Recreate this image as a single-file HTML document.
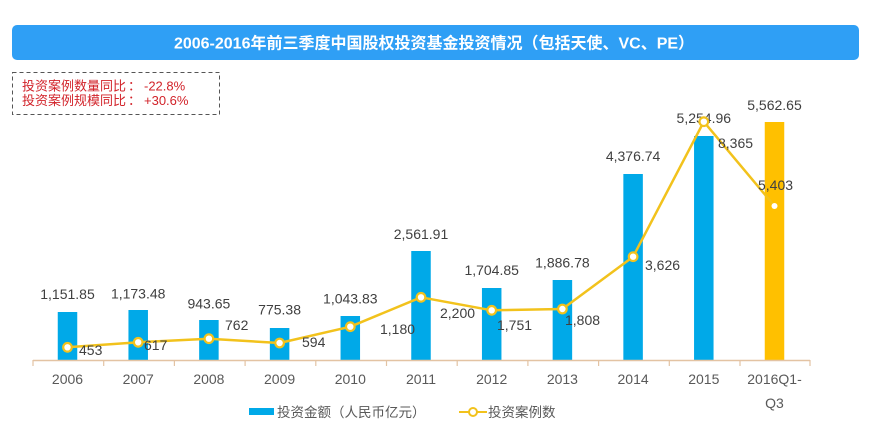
<!DOCTYPE html>
<html>
<head>
<meta charset="utf-8">
<style>
  html,body{margin:0;padding:0;background:#fff;}
  body{width:871px;height:440px;overflow:hidden;position:relative;}
  svg{position:absolute;left:0;top:0;}
  .num{font-family:"Liberation Sans","Noto Sans CJK SC",sans-serif;font-size:14px;fill:#404040;}
  .cat{font-family:"Liberation Sans","Noto Sans CJK SC",sans-serif;font-size:14px;fill:#595959;}
  .leg{font-family:"Liberation Sans","Noto Sans CJK SC",sans-serif;font-size:13.5px;fill:#595959;}
  .title{font-family:"Liberation Sans","Noto Sans CJK SC",sans-serif;font-size:16px;font-weight:bold;fill:#fff;}
  .note{font-family:"Liberation Sans","Noto Sans CJK SC",sans-serif;font-size:13px;fill:#D2232A;}
</style>
</head>
<body>
<svg width="871" height="440" viewBox="0 0 871 440" xmlns="http://www.w3.org/2000/svg">
  <!-- title banner -->
  <rect x="12" y="25" width="847" height="35" rx="5" ry="5" fill="#2F9FF5"/>
  <text class="title" x="434" y="48.5" text-anchor="middle">2006-2016年前三季度中国股权投资基金投资情况（包括天使、VC、PE）</text>

  <!-- annotation box -->
  <rect x="12.5" y="72.5" width="207" height="42" fill="none" stroke="#555" stroke-width="1" stroke-dasharray="4,3"/>
  <text class="note" x="22" y="90.5">投资案例数量同比<tspan x="128">：</tspan><tspan x="144">-22.8%</tspan></text>
  <text class="note" x="22" y="105">投资案例规模同比<tspan x="128">：</tspan><tspan x="144">+30.6%</tspan></text>

  <!-- bars -->
  <g fill="#00A9E8">
    <rect x="57.75" y="312" width="19.5" height="48"/>
    <rect x="128.45" y="310" width="19.5" height="50"/>
    <rect x="199.15" y="320" width="19.5" height="40"/>
    <rect x="269.85" y="328" width="19.5" height="32"/>
    <rect x="340.55" y="316" width="19.5" height="44"/>
    <rect x="411.25" y="251" width="19.5" height="109"/>
    <rect x="481.95" y="288" width="19.5" height="72"/>
    <rect x="552.65" y="280" width="19.5" height="80"/>
    <rect x="623.35" y="174" width="19.5" height="186"/>
    <rect x="694.05" y="136" width="19.5" height="224"/>
  </g>
  <rect x="764.75" y="122" width="19.5" height="238" fill="#FFC000"/>

  <!-- axis -->
  <line x1="33" y1="360.5" x2="810" y2="360.5" stroke="#E3C3A3" stroke-width="1.5"/>
  <g stroke="#E3C3A3" stroke-width="1.2">
    <line x1="33" y1="360" x2="33" y2="366"/>
    <line x1="103.7" y1="360" x2="103.7" y2="366"/>
    <line x1="174.4" y1="360" x2="174.4" y2="366"/>
    <line x1="245.1" y1="360" x2="245.1" y2="366"/>
    <line x1="315.8" y1="360" x2="315.8" y2="366"/>
    <line x1="386.5" y1="360" x2="386.5" y2="366"/>
    <line x1="457.2" y1="360" x2="457.2" y2="366"/>
    <line x1="527.9" y1="360" x2="527.9" y2="366"/>
    <line x1="598.6" y1="360" x2="598.6" y2="366"/>
    <line x1="669.3" y1="360" x2="669.3" y2="366"/>
    <line x1="740" y1="360" x2="740" y2="366"/>
    <line x1="810" y1="360" x2="810" y2="366"/>
  </g>

  <!-- category labels -->
  <g class="cat" text-anchor="middle">
    <text x="67.5" y="384">2006</text>
    <text x="138.2" y="384">2007</text>
    <text x="208.9" y="384">2008</text>
    <text x="279.6" y="384">2009</text>
    <text x="350.3" y="384">2010</text>
    <text x="421" y="384">2011</text>
    <text x="491.7" y="384">2012</text>
    <text x="562.4" y="384">2013</text>
    <text x="633.1" y="384">2014</text>
    <text x="703.8" y="384">2015</text>
    <text x="774.5" y="384">2016Q1-</text>
    <text x="774.5" y="408">Q3</text>
  </g>

  <!-- bar value labels -->
  <g class="num" text-anchor="middle">
    <text x="67.5" y="299">1,151.85</text>
    <text x="138.2" y="298.3">1,173.48</text>
    <text x="208.9" y="308.3">943.65</text>
    <text x="279.6" y="314.3">775.38</text>
    <text x="350.3" y="303.7">1,043.83</text>
    <text x="421" y="239">2,561.91</text>
    <text x="491.7" y="275">1,704.85</text>
    <text x="562.4" y="267.7">1,886.78</text>
    <text x="633.1" y="161">4,376.74</text>
    <text x="703.8" y="123">5,254.96</text>
    <text x="774.5" y="110">5,562.65</text>
  </g>

  <!-- line series -->
  <polyline fill="none" stroke="#F2C21C" stroke-width="2.5" stroke-linejoin="round"
    points="67.5,347.3 138.2,342.3 208.9,338.7 279.6,343 350.3,326.7 421,297.3 491.7,310.3 562.4,309 633.1,256.7 703.8,121.7 774.5,206"/>
  <g fill="#fff" stroke="#F2C21C" stroke-width="2.2">
    <circle cx="67.5" cy="347.3" r="4.3"/>
    <circle cx="138.2" cy="342.3" r="4.3"/>
    <circle cx="208.9" cy="338.7" r="4.3"/>
    <circle cx="279.6" cy="343" r="4.3"/>
    <circle cx="350.3" cy="326.7" r="4.3"/>
    <circle cx="421" cy="297.3" r="4.3"/>
    <circle cx="491.7" cy="310.3" r="4.3"/>
    <circle cx="562.4" cy="309" r="4.3"/>
    <circle cx="633.1" cy="256.7" r="4.3"/>
    <circle cx="703.8" cy="121.7" r="4.3"/>
  </g>
  <circle cx="774.5" cy="206" r="3" fill="#fff"/>

  <!-- line value labels -->
  <g class="num">
    <text x="79" y="355">453</text>
    <text x="144" y="350">617</text>
    <text x="225" y="330">762</text>
    <text x="302" y="347">594</text>
    <text x="380" y="334">1,180</text>
    <text x="440" y="318">2,200</text>
    <text x="497" y="330">1,751</text>
    <text x="565" y="325">1,808</text>
    <text x="645" y="270">3,626</text>
    <text x="718" y="148">8,365</text>
    <text x="758" y="190">5,403</text>
  </g>

  <!-- legend -->
  <rect x="249" y="408" width="25" height="7" fill="#00A9E8"/>
  <text class="leg" x="277" y="417">投资金额（人民币亿元）</text>
  <line x1="459" y1="412" x2="487" y2="412" stroke="#F2C21C" stroke-width="2"/>
  <circle cx="473" cy="412" r="4" fill="#fff" stroke="#F2C21C" stroke-width="2"/>
  <text class="leg" x="488" y="417">投资案例数</text>
</svg>
</body>
</html>
